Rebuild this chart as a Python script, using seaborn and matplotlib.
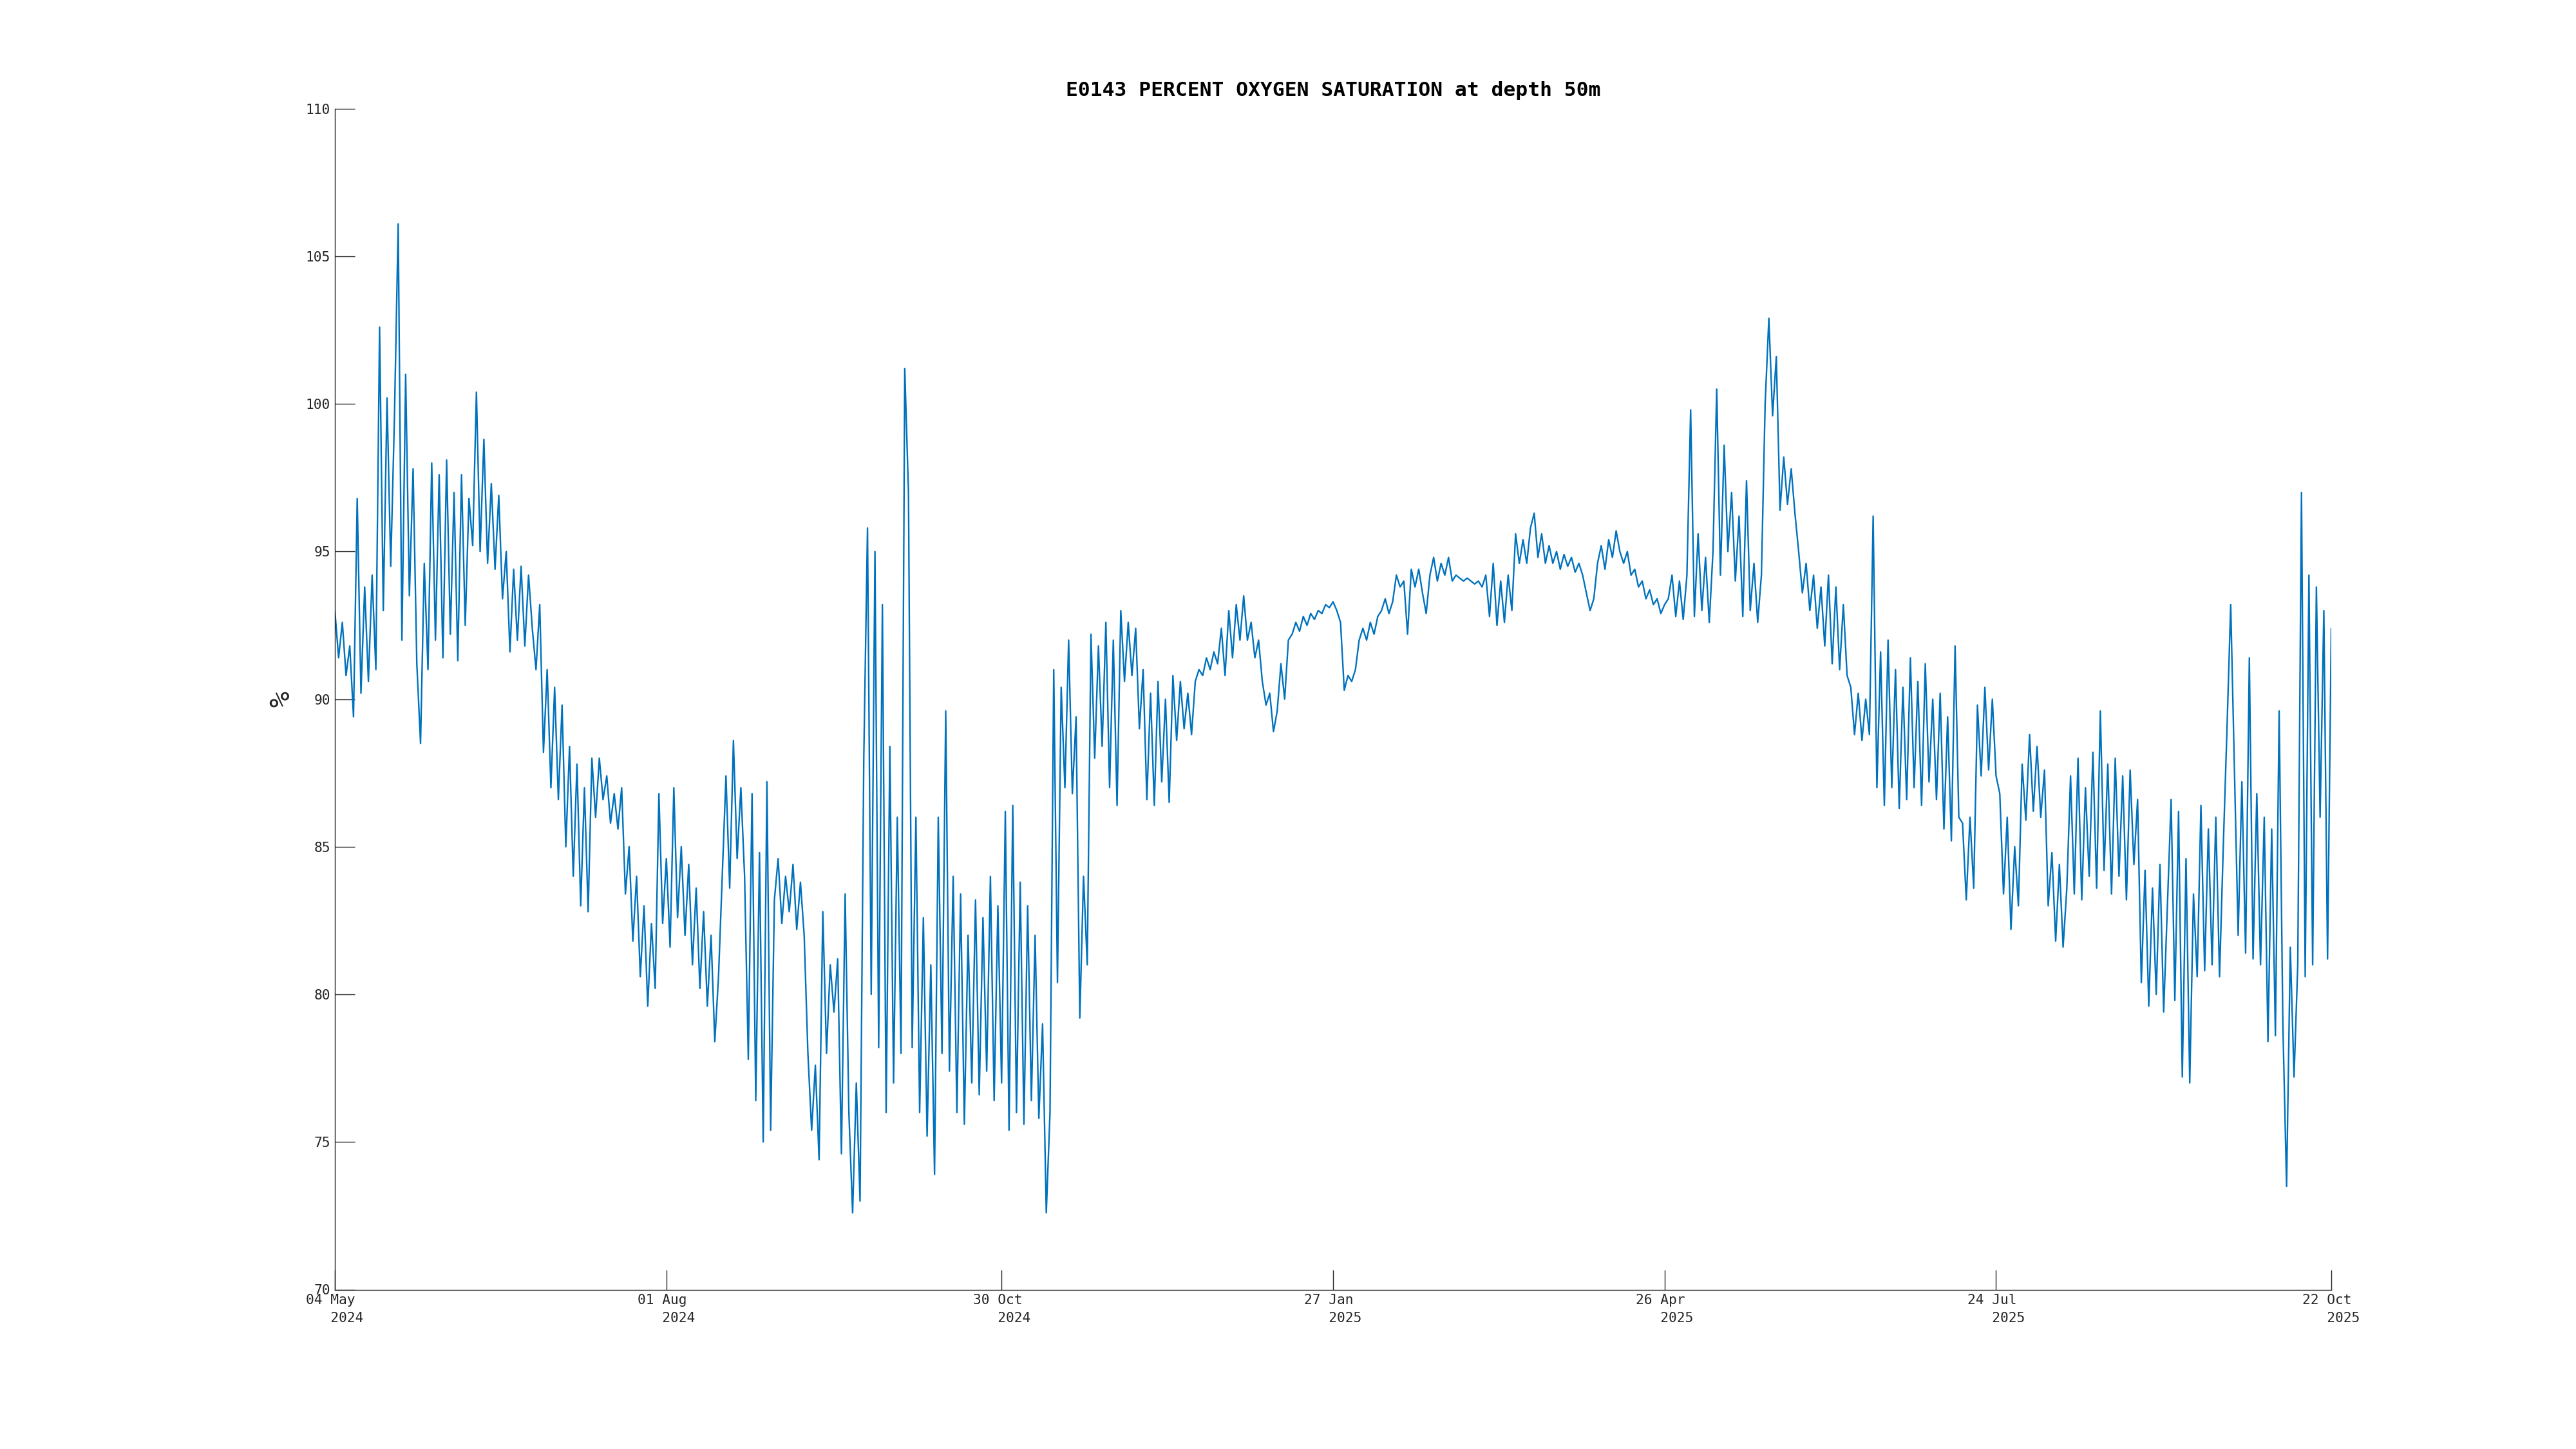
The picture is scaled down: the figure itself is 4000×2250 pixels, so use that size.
import pandas as pd
import numpy as np
import matplotlib
matplotlib.use('Agg')
import matplotlib.pyplot as plt
import seaborn as sns

# daily oxygen saturation (%), one value per day from 04 May 2024
oxy_may_jul_2024 = [
    93.0, 91.4, 92.6, 90.8, 91.8, 89.4, 96.8, 90.2, 93.8, 90.6,
    94.2, 91.0, 102.6, 93.0, 100.2, 94.5, 99.6, 106.1, 92.0, 101.0,
    93.5, 97.8, 91.2, 88.5, 94.6, 91.0, 98.0, 92.0, 97.6, 91.4,
    98.1, 92.2, 97.0, 91.3, 97.6, 92.5, 96.8, 95.2, 100.4, 95.0,
    98.8, 94.6, 97.3, 94.4, 96.9, 93.4, 95.0, 91.6, 94.4, 92.0,
    94.5, 91.8, 94.2, 92.4, 91.0, 93.2, 88.2, 91.0, 87.0, 90.4,
    86.6, 89.8, 85.0, 88.4, 84.0, 87.8, 83.0, 87.0, 82.8, 88.0,
    86.0, 88.0, 86.6, 87.4, 85.8, 86.8, 85.6, 87.0, 83.4, 85.0,
    81.8, 84.0, 80.6, 83.0, 79.6, 82.4, 80.2, 86.8, 82.4]
oxy_aug_oct_2024 = [
    84.6,
    81.6, 87.0, 82.6, 85.0, 82.0, 84.4, 81.0, 83.6, 80.2, 82.8,
    79.6, 82.0, 78.4, 80.6, 84.0, 87.4, 83.6, 88.6, 84.6, 87.0,
    84.0, 77.8, 86.8, 76.4, 84.8, 75.0, 87.2, 75.4, 83.2, 84.6,
    82.4, 84.0, 82.8, 84.4, 82.2, 83.8, 82.0, 78.0, 75.4, 77.6,
    74.4, 82.8, 78.0, 81.0, 79.4, 81.2, 74.6, 83.4, 76.0, 72.6,
    77.0, 73.0, 88.0, 95.8, 80.0, 95.0, 78.2, 93.2, 76.0, 88.4,
    77.0, 86.0, 78.0, 101.2, 97.0, 78.2, 86.0, 76.0, 82.6, 75.2,
    81.0, 73.9, 86.0, 78.0, 89.6, 77.4, 84.0, 76.0, 83.4, 75.6,
    82.0, 77.0, 83.2, 76.6, 82.6, 77.4, 84.0, 76.4, 83.0]
oxy_oct_jan = [
    77.0,
    86.2, 75.4, 86.4, 76.0, 83.8, 75.6, 83.0, 76.4, 82.0, 75.8,
    79.0, 72.6, 76.0, 91.0, 80.4, 90.4, 87.0, 92.0, 86.8, 89.4,
    79.2, 84.0, 81.0, 92.2, 88.0, 91.8, 88.4, 92.6, 87.0, 92.0,
    86.4, 93.0, 90.6, 92.6, 90.8, 92.4, 89.0, 91.0, 86.6, 90.2,
    86.4, 90.6, 87.2, 90.0, 86.5, 90.8, 88.6, 90.6, 89.0, 90.2,
    88.8, 90.6, 91.0, 90.8, 91.4, 91.0, 91.6, 91.2, 92.4, 90.8,
    93.0, 91.4, 93.2, 92.0, 93.5, 92.0, 92.6, 91.4, 92.0, 90.6,
    89.8, 90.2, 88.9, 89.6, 91.2, 90.0, 92.0, 92.2, 92.6, 92.3,
    92.8, 92.5, 92.9, 92.7, 93.0, 92.9, 93.2, 93.1]
oxy_jan_apr_2025 = [
    93.3, 93.0,
    92.6, 90.3, 90.8, 90.6, 91.0, 92.0, 92.4, 92.0, 92.6, 92.2,
    92.8, 93.0, 93.4, 92.9, 93.3, 94.2, 93.8, 94.0, 92.2, 94.4,
    93.8, 94.4, 93.6, 92.9, 94.2, 94.8, 94.0, 94.6, 94.2, 94.8,
    94.0, 94.2, 94.1, 94.0, 94.1, 94.0, 93.9, 94.0, 93.8, 94.2,
    92.8, 94.6, 92.5, 94.0, 92.6, 94.2, 93.0, 95.6, 94.6, 95.4,
    94.6, 95.8, 96.3, 94.8, 95.6, 94.6, 95.2, 94.6, 95.0, 94.4,
    94.9, 94.5, 94.8, 94.3, 94.6, 94.2, 93.6, 93.0, 93.4, 94.6,
    95.2, 94.4, 95.4, 94.8, 95.7, 95.0, 94.6, 95.0, 94.2, 94.4,
    93.8, 94.0, 93.4, 93.7, 93.2, 93.4, 92.9]
oxy_apr_jul_2025 = [
    93.2, 93.4, 94.2,
    92.8, 94.0, 92.7, 94.2, 99.8, 92.8, 95.6, 93.0, 94.8, 92.6,
    95.0, 100.5, 94.2, 98.6, 95.0, 97.0, 94.0, 96.2, 92.8, 97.4,
    93.0, 94.6, 92.6, 94.2, 100.0, 102.9, 99.6, 101.6, 96.4, 98.2,
    96.6, 97.8, 96.3, 95.0, 93.6, 94.6, 93.0, 94.2, 92.4, 93.8,
    91.8, 94.2, 91.2, 93.8, 91.0, 93.2, 90.8, 90.4, 88.8, 90.2,
    88.6, 90.0, 88.8, 96.2, 87.0, 91.6, 86.4, 92.0, 87.0, 91.0,
    86.3, 90.4, 86.6, 91.4, 87.0, 90.6, 86.4, 91.2, 87.2, 90.0,
    86.6, 90.2, 85.6, 89.4, 85.2, 91.8, 86.0, 85.8, 83.2, 86.0,
    83.6, 89.8, 87.4, 90.4, 87.6, 90.0]
oxy_jul_oct_2025 = [
    87.4, 86.8, 83.4, 86.0,
    82.2, 85.0, 83.0, 87.8, 85.9, 88.8, 86.2, 88.4, 86.0, 87.6,
    83.0, 84.8, 81.8, 84.4, 81.6, 83.6, 87.4, 83.4, 88.0, 83.2,
    87.0, 84.0, 88.2, 83.6, 89.6, 84.2, 87.8, 83.4, 88.0, 84.0,
    87.4, 83.2, 87.6, 84.4, 86.6, 80.4, 84.2, 79.6, 83.6, 80.0,
    84.4, 79.4, 83.0, 86.6, 79.8, 86.2, 77.2, 84.6, 77.0, 83.4,
    80.6, 86.4, 80.8, 85.6, 81.0, 86.0, 80.6, 85.0, 89.0, 93.2,
    87.6, 82.0, 87.2, 81.4, 91.4, 81.2, 86.8, 81.0, 86.0, 78.4,
    85.6, 78.6, 89.6, 79.0, 73.5, 81.6, 77.2, 81.0, 97.0, 80.6,
    94.2, 81.0, 93.8, 86.0, 93.0, 81.2, 92.4]

tick_dates = ['2024-05-04', '2024-08-01', '2024-10-30', '2025-01-27',
              '2025-04-26', '2025-07-24', '2025-10-22']
tick_labels = ['04 May\n   2024', '01 Aug\n   2024', '30 Oct\n   2024', '27 Jan\n   2025',
               '26 Apr\n   2025', '24 Jul\n   2025', '22 Oct\n   2025']
y_ticks = [70, 75, 80, 85, 90, 95, 100, 105, 110]

values = (oxy_may_jul_2024 + oxy_aug_oct_2024 + oxy_oct_jan +
          oxy_jan_apr_2025 + oxy_apr_jul_2025 + oxy_jul_oct_2025)
df = pd.DataFrame({
    'time': pd.date_range('2024-05-04', periods=len(values), freq='D'),
    'oxygen': values,
})

sns.set_style('white')
plt.rcParams['font.family'] = ['DejaVu Sans Mono', 'DejaVu Sans']

axcol = '#262626'
fig = plt.figure(figsize=(40, 22.5), dpi=100)
ax = fig.add_axes([0.13, 0.11, 0.775, 0.815])

sns.lineplot(data=df, x='time', y='oxygen', ax=ax, color='#0072BD',
             linewidth=1.7, estimator=None)

ax.set_xlim(pd.Timestamp(tick_dates[0]), pd.Timestamp(tick_dates[-1]))
ax.set_ylim(70, 110)
ax.set_yticks(y_ticks)
ax.set_yticklabels([str(v) for v in y_ticks])
ax.set_xticks([pd.Timestamp(d) for d in tick_dates])
ax.set_xticklabels(tick_labels, multialignment='left', linespacing=1.45)

ax.tick_params(direction='in', length=22, width=1, colors=axcol,
               labelsize=15.3, pad=5, top=False, right=False,
               left=True, bottom=True)
for s in ['top', 'right']:
    ax.spines[s].set_visible(False)
for s in ['left', 'bottom']:
    ax.spines[s].set_color(axcol)
    ax.spines[s].set_linewidth(1.0)

ax.set_xlabel('')
ax.set_ylabel('%', fontsize=30, color=axcol, labelpad=12)
ax.set_title('E0143 PERCENT OXYGEN SATURATION at depth 50m',
             fontsize=22.5, fontweight='bold', color='black', pad=14)

fig.savefig('out.png', dpi=100, facecolor='white')
